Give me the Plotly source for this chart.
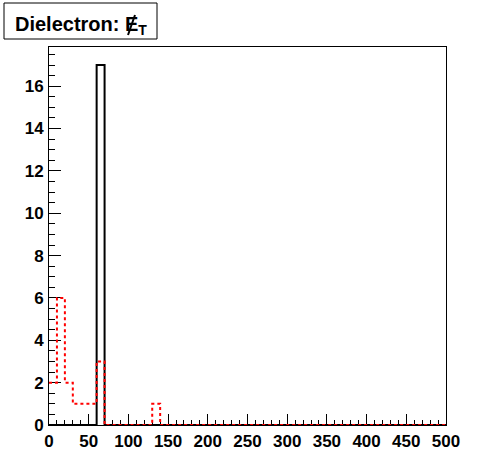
import plotly.graph_objects as go

# Histogram bins (GeV), 10 GeV wide from 0 to 500
bin_edges = list(range(0, 510, 10))
# Black (solid) histogram contents per bin
black_counts = [0, 0, 0, 0, 0, 0, 17] + [0] * 43
# Red (dashed) histogram contents per bin
red_counts = [2, 6, 2, 1, 1, 1, 3, 0, 0, 0, 0, 0, 0, 1] + [0] * 36

x_tickvals = [0, 50, 100, 150, 200, 250, 300, 350, 400, 450, 500]
x_ticklabels = ["0", "50", "100", "150", "200", "250", "300", "350", "400", "450", "500"]
y_tickvals = [0, 2, 4, 6, 8, 10, 12, 14, 16]
y_ticklabels = ["0", "2", "4", "6", "8", "10", "12", "14", "16"]
title_text = "Dielectron: E<sub>T</sub>"

FONT = "Liberation Sans, Arial, Helvetica, sans-serif"

fig = go.Figure()
fig.add_trace(go.Scatter(
    x=bin_edges, y=black_counts + [black_counts[-1]],
    mode="lines", line=dict(shape="hv", color="black", width=2),
    showlegend=False, hoverinfo="skip"))
fig.add_trace(go.Scatter(
    x=bin_edges, y=red_counts + [red_counts[-1]],
    mode="lines", line=dict(shape="hv", color="red", width=2, dash="3px,3px"),
    showlegend=False, hoverinfo="skip"))

tickfont = dict(size=17, family=FONT, color="black")
fig.update_layout(
    width=496, height=472, autosize=False,
    margin=dict(l=49, r=50, t=47, b=47, pad=0),
    paper_bgcolor="white", plot_bgcolor="white",
    font=dict(family=FONT, color="black"),
    xaxis=dict(range=[0, 500], tickvals=x_tickvals,
               ticktext=["<b>%s</b>" % t for t in x_ticklabels],
               ticks="inside", ticklen=11,
               tickwidth=1, tickcolor="black", showline=True, linecolor="black",
               linewidth=1, mirror=True, showgrid=False, zeroline=False,
               tickfont=tickfont, ticklabelstandoff=1,
               minor=dict(dtick=10, ticks="inside", ticklen=5, tickcolor="black",
                          tickwidth=1, showgrid=False),
               layer="below traces"),
    yaxis=dict(range=[0, 17.85], tickvals=y_tickvals,
               ticktext=["<b>%s</b>" % t for t in y_ticklabels],
               ticks="inside", ticklen=12,
               tickwidth=1, tickcolor="black", showline=True, linecolor="black",
               linewidth=1, mirror=True, showgrid=False, zeroline=False,
               tickfont=tickfont, ticklabelstandoff=1,
               minor=dict(dtick=0.5, ticks="inside", ticklen=6, tickcolor="black",
                          tickwidth=1, showgrid=False),
               layer="below traces"),
)

def px_x(p):
    return (p - 49) / 397.0

def px_y(p):
    return (425 - p) / 378.0

fig.add_shape(type="rect", xref="paper", yref="paper",
              x0=px_x(4), x1=px_x(157), y0=px_y(39), y1=px_y(3),
              line=dict(color="black", width=1), fillcolor="white")
fig.add_annotation(xref="paper", yref="paper", x=px_x(81), y=px_y(25),
                   xanchor="center", yanchor="middle", showarrow=False,
                   text="<b>%s</b>" % title_text,
                   font=dict(size=20, family=FONT, color="black"))
# slash through E (missing transverse energy)
fig.add_shape(type="line", xref="paper", yref="paper",
              x0=px_x(128), y0=px_y(35), x1=px_x(135), y1=px_y(15),
              line=dict(color="black", width=2))

# remove the browser's default 8px body margin so the figure sits at the window origin
fig.write_html("out.html", config={"displayModeBar": False},
               post_script="document.body.style.margin='0px';")
